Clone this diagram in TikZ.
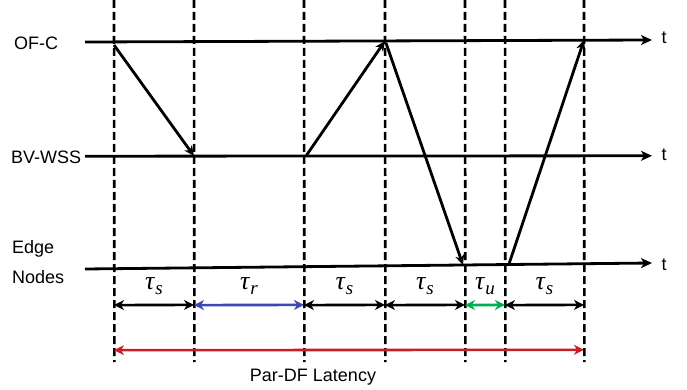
\documentclass[tikz,border=0pt]{standalone}
\usepackage{fontspec}
\setmainfont{Liberation Sans}
\newfontfamily\taufont{Liberation Serif}
\usetikzlibrary{arrows.meta}
\definecolor{myblue}{RGB}{60,72,180}
\definecolor{mygreen}{RGB}{0,176,80}
\definecolor{myred}{RGB}{200,30,40}
\newcommand{\tauof}[1]{{\fontsize{26}{28}\selectfont\taufont\itshape τ}\kern1pt\raisebox{-5pt}{\fontsize{19}{20}\selectfont\taufont\itshape #1}}
\tikzset{
  axisline/.style={line width=2.8pt,-{Stealth[length=11pt,width=10pt,inset=3pt]}},
  msgline/.style={line width=2.8pt,-{Stealth[length=10pt,width=9pt,inset=3pt]}},
  dashline/.style={line width=2.6pt,dash pattern=on 8pt off 4pt},
  spanline/.style={line width=2.6pt,{Stealth[length=10pt,width=10pt,inset=3pt]}-{Stealth[length=10pt,width=10pt,inset=3pt]}},
  lbl/.style={font=\fontsize{18}{20}\selectfont,inner sep=0pt},
  taulbl/.style={inner sep=0pt}
}
\begin{document}
\begin{tikzpicture}[x=1pt,y=-1pt]
\useasboundingbox (0,0) rectangle (687,390);
% vertical dashed lines
\coordinate (atop) at (114,0); \coordinate (abot) at (114.4,362);
\coordinate (btop) at (194,0); \coordinate (bbot) at (194.4,362);
\coordinate (ctop) at (304,0); \coordinate (cbot) at (304.4,362);
\coordinate (dtop) at (385,0); \coordinate (dbot) at (385.4,362);
\coordinate (etop) at (465,0); \coordinate (ebot) at (465.4,362);
\coordinate (ftop) at (505,0); \coordinate (fbot) at (505.4,362);
\coordinate (gtop) at (584,0); \coordinate (gbot) at (584.4,362);
\draw[dashline] (atop) -- (abot);
\draw[dashline] (btop) -- (bbot);
\draw[dashline] (ctop) -- (cbot);
\draw[dashline] (dtop) -- (dbot);
\draw[dashline] (etop) -- (ebot);
\draw[dashline] (ftop) -- (fbot);
\draw[dashline] (gtop) -- (gbot);
% timelines
\coordinate (ofcS) at (85,42); \coordinate (ofcE) at (652,40);
\coordinate (bvS) at (85,156.2); \coordinate (bvE) at (652,155.8);
\coordinate (enS) at (85,269); \coordinate (enE) at (652,263);
\draw[axisline] (ofcS) -- (ofcE);
\draw[axisline] (bvS) -- (bvE);
\draw[axisline] (enS) -- (enE);
\node[lbl] (t1) at (664,38) {t};
\node[lbl] (t2) at (664,155) {t};
\node[lbl] (t3) at (664,265) {t};
\node[lbl,anchor=west] (ofc) at (14,43) {OF-C};
\node[lbl,anchor=west] (bv) at (11,157) {BV-WSS};
\node[lbl,anchor=west,align=left,font=\fontsize{18}{30}\selectfont] (en) at (12,262) {Edge\\Nodes};
% messages
\coordinate (m1s) at (114,45); \coordinate (m1e) at (194,156);
\coordinate (m2s) at (306,156); \coordinate (m2e) at (385,41);
\coordinate (m3s) at (386,43); \coordinate (m3e) at (463,265);
\coordinate (m4s) at (509,264); \coordinate (m4e) at (584,40);
\draw[msgline] (m1s) -- (m1e);
\draw[msgline] (m2s) -- (m2e);
\draw[msgline] (m3s) -- (m3e);
\draw[msgline] (m4s) -- (m4e);
% spans
\coordinate (as) at (114,305.1); \coordinate (ar) at (114,350.2);
\coordinate (bs) at (194,304.9);
\coordinate (bs2) at (194,305.1);
\coordinate (cs) at (304,304.9);
\coordinate (cs2) at (304,305.1);
\coordinate (ds) at (385,304.9);
\coordinate (ds2) at (385,305.1);
\coordinate (es) at (465,304.9);
\coordinate (es2) at (465,305.1);
\coordinate (fs) at (505,304.9);
\coordinate (fs2) at (505,305.1);
\coordinate (gs) at (584,304.9); \coordinate (gr) at (584,349.8);
\draw[spanline] (as) -- node[taulbl,above=9pt] (tau1) {\tauof{s}} (bs);
\draw[spanline,myblue] (bs2) -- node[taulbl,above=9pt,text=black] (tau2) {\tauof{r}} (cs);
\draw[spanline] (cs2) -- node[taulbl,above=9pt] (tau3) {\tauof{s}} (ds);
\draw[spanline] (ds2) -- node[taulbl,above=9pt] (tau4) {\tauof{s}} (es);
\draw[spanline,mygreen] (es2) -- node[taulbl,above=9pt,text=black] (tau5) {\tauof{u}} (fs);
\draw[spanline] (fs2) -- node[taulbl,above=9pt] (tau6) {\tauof{s}} (gs);
\draw[spanline,myred] (ar) -- (gr);
\node[lbl] (lat) at (313,377) {Par-DF Latency};
\end{tikzpicture}
\end{document}
